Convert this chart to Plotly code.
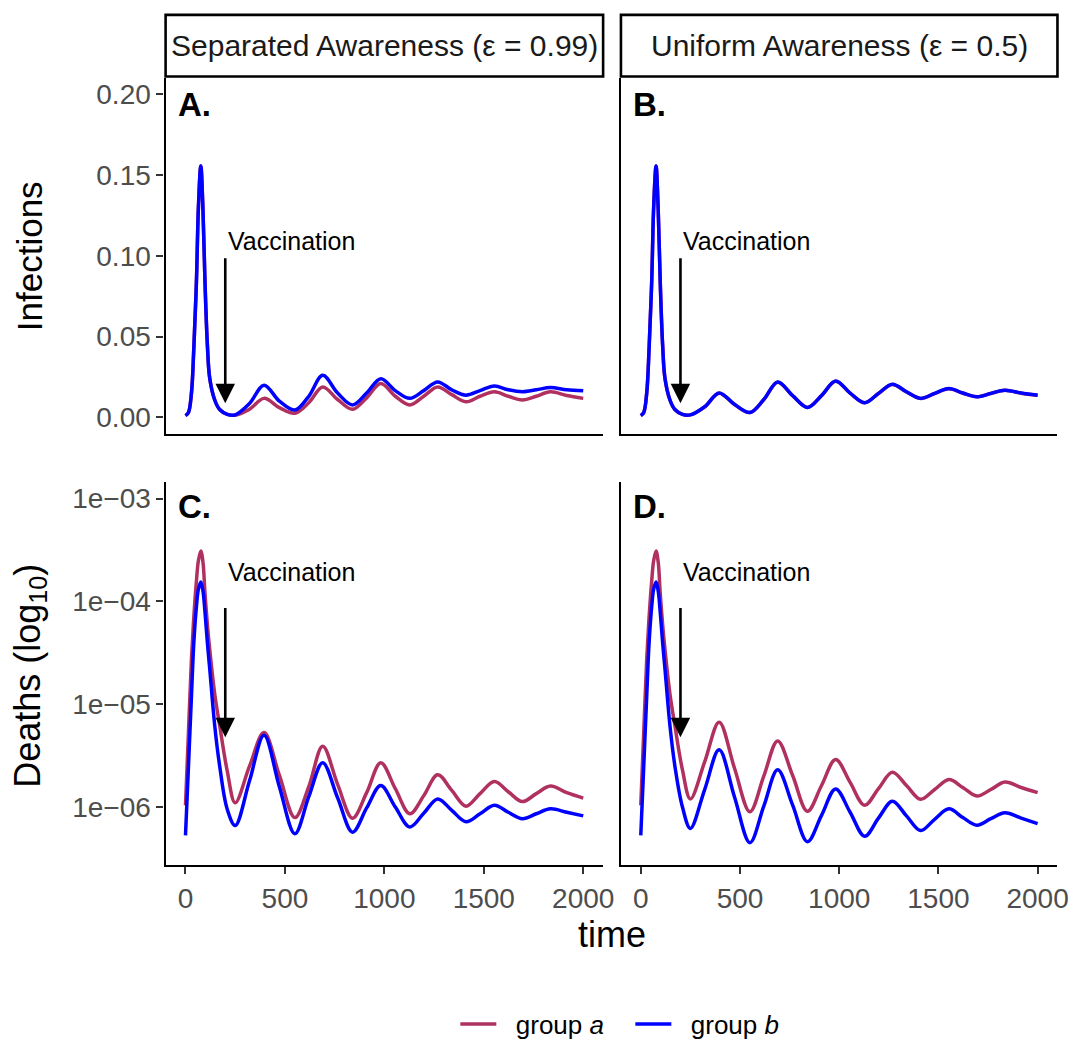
import plotly.graph_objects as go

# ---------------- data ----------------
time = [0, 15, 30, 42, 55, 65, 77, 88, 98, 110, 122, 147, 172, 210, 250,
        322, 395, 472, 550, 620, 690, 765, 840, 911, 982,
        1055, 1128, 1198, 1268, 1339, 1410, 1481, 1553, 1623, 1694,
        1764, 1835, 1917, 2000]

# Infections, separated awareness (eps = 0.99)
inf_sep_a = [0.001, 0.003, 0.015, 0.043, 0.084, 0.130, 0.1557, 0.128, 0.084, 0.045, 0.024, 0.0107, 0.0048, 0.0018, 0.0013,
             0.0050, 0.0117, 0.0060, 0.0025, 0.0090, 0.0188, 0.0110, 0.0049, 0.0120, 0.0209,
             0.0130, 0.0076, 0.0130, 0.0188, 0.0140, 0.0096, 0.0130, 0.0158, 0.0130, 0.0107,
             0.0130, 0.0158, 0.0135, 0.0117]
inf_sep_b = [0.001, 0.003, 0.015, 0.043, 0.084, 0.130, 0.1557, 0.128, 0.084, 0.045, 0.024, 0.0107, 0.0048, 0.0018, 0.0015,
             0.0085, 0.0199, 0.0100, 0.0045, 0.0130, 0.0260, 0.0150, 0.0076, 0.0150, 0.0239,
             0.0165, 0.0117, 0.0165, 0.0219, 0.0170, 0.0137, 0.0165, 0.0194, 0.0170, 0.0158,
             0.0170, 0.0184, 0.0170, 0.0164]

# Infections, uniform awareness (eps = 0.5)
inf_uni_a = [0.001, 0.003, 0.015, 0.043, 0.084, 0.130, 0.1557, 0.128, 0.084, 0.045, 0.024, 0.0107, 0.0048, 0.0018, 0.0015,
             0.0064, 0.0149, 0.0079, 0.0029, 0.0109, 0.0217, 0.0134, 0.0061, 0.0134, 0.0223,
             0.0149, 0.0090, 0.0147, 0.0203, 0.0157, 0.0117, 0.0147, 0.0177, 0.0149, 0.0127,
             0.0147, 0.0167, 0.0149, 0.0137]
inf_uni_b = [0.001, 0.003, 0.015, 0.043, 0.084, 0.130, 0.1557, 0.128, 0.084, 0.045, 0.024, 0.0107, 0.0048, 0.0018, 0.0015,
             0.0065, 0.0151, 0.0080, 0.0029, 0.0110, 0.0219, 0.0135, 0.0061, 0.0135, 0.0225,
             0.0150, 0.0090, 0.0148, 0.0205, 0.0158, 0.0117, 0.0148, 0.0178, 0.0150, 0.0127,
             0.0148, 0.0168, 0.0150, 0.0137]

# Deaths, separated awareness (eps = 0.99)
dth_sep_a = [1.04e-6, 5.4e-6, 2.75e-5, 7.1e-5, 1.58e-4, 2.5e-4, 3.1e-4, 2.4e-4, 1.2e-4, 6.0e-5, 3.4e-5, 1.26e-5, 6.2e-6, 2.24e-6, 1.1e-6,
             2.5e-6, 5.3e-6, 2.04e-6, 7.9e-7, 1.58e-6, 3.9e-6, 1.66e-6, 7.8e-7, 1.38e-6, 2.7e-6,
             1.51e-6, 8.6e-7, 1.29e-6, 2.06e-6, 1.45e-6, 1.02e-6, 1.35e-6, 1.77e-6, 1.41e-6, 1.13e-6,
             1.35e-6, 1.6e-6, 1.38e-6, 1.22e-6]
dth_sep_b = [5.3e-7, 2.5e-6, 1.2e-5, 4.0e-5, 8.9e-5, 1.32e-4, 1.55e-4, 1.26e-4, 7.9e-5, 4.0e-5, 2.2e-5, 6.2e-6, 2.5e-6, 9.5e-7, 6.6e-7,
             1.8e-6, 5.0e-6, 1.58e-6, 5.5e-7, 1.26e-6, 2.7e-6, 1.23e-6, 5.7e-7, 9.8e-7, 1.62e-6,
             1.0e-6, 6.4e-7, 8.7e-7, 1.2e-6, 9.3e-7, 7.2e-7, 8.6e-7, 1.04e-6, 8.9e-7, 7.7e-7,
             8.6e-7, 9.6e-7, 8.9e-7, 8.2e-7]

# Deaths, uniform awareness (eps = 0.5)
dth_uni_a = [1.04e-6, 5.4e-6, 2.75e-5, 7.1e-5, 1.58e-4, 2.5e-4, 3.1e-4, 2.4e-4, 1.2e-4, 6.0e-5, 3.4e-5, 1.26e-5, 6.2e-6, 2.3e-6, 1.2e-6,
             2.75e-6, 6.7e-6, 2.4e-6, 9.0e-7, 2.0e-6, 4.4e-6, 2.04e-6, 9.1e-7, 1.62e-6, 2.9e-6,
             1.74e-6, 1.04e-6, 1.51e-6, 2.18e-6, 1.62e-6, 1.19e-6, 1.48e-6, 1.85e-6, 1.55e-6, 1.28e-6,
             1.48e-6, 1.75e-6, 1.55e-6, 1.38e-6]
dth_uni_b = [5.3e-7, 2.5e-6, 1.2e-5, 4.0e-5, 8.9e-5, 1.32e-4, 1.55e-4, 1.26e-4, 7.9e-5, 4.0e-5, 2.2e-5, 6.2e-6, 2.5e-6, 1.0e-6, 6.2e-7,
             1.48e-6, 3.6e-6, 1.26e-6, 4.5e-7, 1.02e-6, 2.3e-6, 1.05e-6, 4.6e-7, 8.3e-7, 1.5e-6,
             8.9e-7, 5.2e-7, 7.8e-7, 1.14e-6, 8.2e-7, 5.9e-7, 7.6e-7, 9.6e-7, 7.9e-7, 6.65e-7,
             7.7e-7, 8.8e-7, 7.8e-7, 6.9e-7]

strip_labels = ["Separated Awareness (\u03b5 = 0.99)", "Uniform Awareness (\u03b5 = 0.5)"]
panel_labels = ["A.", "B.", "C.", "D."]
group_names = ["\u00a0\u00a0group <i>a</i>", "\u00a0\u00a0group <i>b</i>"]
y_top_ticks = [0.00, 0.05, 0.10, 0.15, 0.20]
y_top_text = ["0.00", "0.05", "0.10", "0.15", "0.20"]
y_bot_ticks = [1e-3, 1e-4, 1e-5, 1e-6]
y_bot_text = ["1e\u221203", "1e\u221204", "1e\u221205", "1e\u221206"]
x_ticks = [0, 500, 1000, 1500, 2000]
vacc_time = 200

# ---------------- style ----------------
COL_A = "#B03060"
COL_B = "#0000FF"
FONT = "Liberation Sans, Arial, sans-serif"
W, H = 1084, 1048

def px_x(p):
    return p / W

def px_y(p):
    return 1 - p / H

xdom_L = [px_x(167.3), px_x(609.3)]
xdom_R = [px_x(627.3), px_x(1068.3)]
ydom_T = [px_y(436.7), px_y(78)]
ydom_B = [px_y(870), px_y(485)]

fig = go.Figure()

panels = [
    ("x", "y", inf_sep_a, inf_sep_b),
    ("x2", "y2", inf_uni_a, inf_uni_b),
    ("x3", "y3", dth_sep_a, dth_sep_b),
    ("x4", "y4", dth_uni_a, dth_uni_b),
]
for i, (xa, ya, sa, sb) in enumerate(panels):
    fig.add_trace(go.Scatter(x=time, y=sa, xaxis=xa, yaxis=ya, mode="lines",
                             line=dict(color=COL_A, width=3.5, shape="spline", smoothing=1.0),
                             name=group_names[0], legendgroup="a", showlegend=(i == 0)))
    fig.add_trace(go.Scatter(x=time, y=sb, xaxis=xa, yaxis=ya, mode="lines",
                             line=dict(color=COL_B, width=3.5, shape="spline", smoothing=1.0),
                             name=group_names[1], legendgroup="b", showlegend=(i == 0)))

tickfont = dict(family=FONT, size=28, color="#4D4D4D")
xcommon = dict(range=[-100, 2100], showgrid=False, zeroline=False, showline=True,
               linecolor="black", linewidth=2.4, tickvals=x_ticks, tickfont=tickfont)
ycommon = dict(showgrid=False, zeroline=False, showline=True, linecolor="black", linewidth=2.4,
               tickfont=tickfont)
tk = dict(ticks="outside", ticklen=7, tickwidth=2, tickcolor="#333333")

fig.update_layout(
    xaxis=dict(domain=xdom_L, anchor="y", showticklabels=False, ticks="", **xcommon),
    xaxis2=dict(domain=xdom_R, anchor="y2", showticklabels=False, ticks="", **xcommon),
    xaxis3=dict(domain=xdom_L, anchor="y3", **tk, **xcommon),
    xaxis4=dict(domain=xdom_R, anchor="y4", **tk, **xcommon),
    yaxis=dict(domain=ydom_T, anchor="x", range=[-0.0105, 0.2105], tickvals=y_top_ticks, ticktext=y_top_text,
               **tk, **ycommon),
    yaxis2=dict(domain=ydom_T, anchor="x2", range=[-0.0105, 0.2105], showticklabels=False, ticks="", **ycommon),
    yaxis3=dict(domain=ydom_B, anchor="x3", type="log", range=[-6.564, -2.84], tickvals=y_bot_ticks, ticktext=y_bot_text,
                **tk, **ycommon),
    yaxis4=dict(domain=ydom_B, anchor="x4", type="log", range=[-6.564, -2.84], showticklabels=False, ticks="", **ycommon),
)

annotations = []
shapes = []
# strips
for k, xd in enumerate([xdom_L, xdom_R]):
    shapes.append(dict(type="rect", xref="paper", yref="paper", x0=xd[0], x1=xd[1],
                       y0=px_y(77), y1=px_y(15), line=dict(color="black", width=2.6), fillcolor="white"))
    annotations.append(dict(xref="paper", yref="paper", x=(xd[0] + xd[1]) / 2, y=px_y(46),
                            text=strip_labels[k], showarrow=False, xanchor="center", yanchor="middle",
                            font=dict(family=FONT, size=30, color="#1A1A1A")))

# panel labels + vaccination arrows
info = [
    ("x", "y", 0.1937, 0.1095, 0.0086, 0.0995),
    ("x2", "y2", 0.1937, 0.1095, 0.0086, 0.0995),
    ("x3", "y3", -3.08, -3.71, -5.32, -4.05),
    ("x4", "y4", -3.08, -3.71, -5.32, -4.05),
]
for k, (xa, ya, ylab, ytxt, ytip, ytail) in enumerate(info):
    annotations.append(dict(xref=xa, yref=ya, x=-50, y=ylab, text="<b>%s</b>" % panel_labels[k],
                            showarrow=False, xanchor="left", yanchor="middle",
                            font=dict(family=FONT, size=33, color="black")))
    annotations.append(dict(xref=xa, yref=ya, x=vacc_time + 3, y=ytxt, text="Vaccination",
                            showarrow=False, xanchor="left", yanchor="middle",
                            font=dict(family=FONT, size=25, color="black")))
    annotations.append(dict(xref=xa, yref=ya, x=vacc_time, y=ytip, ax=vacc_time, ay=ytail,
                            axref=xa, ayref=ya, text="", showarrow=True, arrowhead=2,
                            arrowsize=1.5, arrowwidth=2.6, arrowcolor="black", standoff=0))

# axis titles
annotations.append(dict(xref="paper", yref="paper", x=px_x(30), y=px_y(258), text="Infections",
                        textangle=-90, showarrow=False, xanchor="center", yanchor="middle",
                        font=dict(family=FONT, size=35, color="black")))
annotations.append(dict(xref="paper", yref="paper", x=px_x(30), y=px_y(680), text="Deaths (log<sub>10</sub>)",
                        textangle=-90, showarrow=False, xanchor="center", yanchor="middle",
                        font=dict(family=FONT, size=36, color="black")))
annotations.append(dict(xref="paper", yref="paper", x=px_x(618), y=px_y(940), text="time",
                        showarrow=False, xanchor="center", yanchor="middle",
                        font=dict(family=FONT, size=36, color="black")))

fig.update_layout(
    width=W, height=H,
    margin=dict(l=0, r=0, t=0, b=0),
    paper_bgcolor="white", plot_bgcolor="white",
    annotations=annotations, shapes=shapes,
    showlegend=True,
    legend=dict(orientation="h", x=px_x(460), xanchor="left", y=px_y(1030), yanchor="middle",
                font=dict(family=FONT, size=26, color="black"), bgcolor="rgba(0,0,0,0)",
                itemwidth=36, entrywidth=124),
)

fig.write_html("out.html")
